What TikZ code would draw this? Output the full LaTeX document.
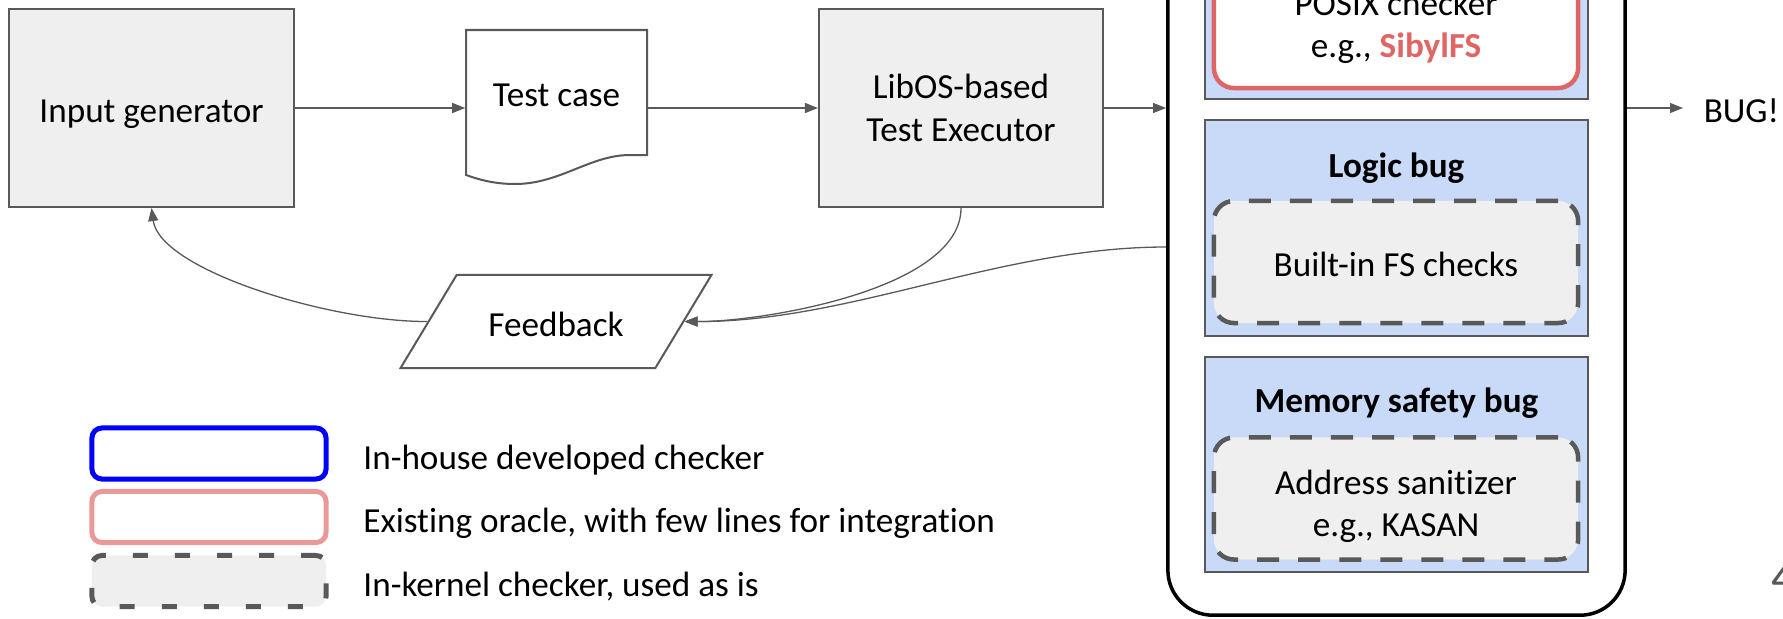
\documentclass[tikz,border=0pt]{standalone}
\usepackage{fontspec}
\setmainfont{Carlito}[Ligatures=CommonOff]
\usetikzlibrary{arrows.meta,shapes.geometric,positioning,calc}

\definecolor{boxgray}{HTML}{EFEFEF}
\definecolor{linegray}{HTML}{595959}
\definecolor{panelblue}{HTML}{C9DAF8}
\definecolor{oraclered}{HTML}{E06666}
\definecolor{keyred}{HTML}{EA9999}
\definecolor{keyblue}{HTML}{0000FF}

\begin{document}
\begin{tikzpicture}[x=0.01cm,y=-0.01cm,font=\fontsize{10}{12}\selectfont]

\tikzset{txt/.style = {text height=0.36cm, text depth=0.07cm}}
\tikzset{box/.style = {draw=linegray, line width=0.02cm, fill=boxgray, minimum width=2.84cm, minimum height=1.98cm, align=center}}
\tikzset{edge/.style = {-{Triangle[length=0.13cm,width=0.1cm]}, draw=linegray, line width=0.013cm}}
\tikzset{panel/.style = {draw=linegray, line width=0.02cm, fill=panelblue, minimum width=3.83cm, minimum height=2.15cm}}
\tikzset{chkbox/.style = {rounded corners=0.2cm, minimum width=3.64cm, minimum height=1.22cm, align=center, line width=0.045cm}}
\tikzset{kernel/.style = {chkbox, draw=linegray, fill=boxgray, dash pattern=on 0.22cm off 0.19cm}}
\tikzset{oracle/.style = {chkbox, draw=oraclered, fill=white}}
\tikzset{key/.style = {rounded corners=0.1cm, minimum width=2.34cm, minimum height=0.51cm, line width=0.05cm}}

\useasboundingbox (0,0) rectangle (1783,618);

% pipeline
\node[box, txt] (gen) at (151.5,108) {Input generator};
\node[minimum width=1.81cm, minimum height=1.56cm] (tc) at (556.5,108) {};
\draw[draw=linegray, line width=0.02cm] (466,30) -- (647,30) -- (647,155) -- (630,155)
  .. controls (590,155) and (560,184) .. (515,184)
  .. controls (495,184) and (480,180) .. (466,175) -- cycle;
\node[txt] (tctext) at (556.5,92) {Test case};
\node[box] (exec) at (961,108) {LibOS-based\\Test Executor};
\node[draw=linegray, line width=0.02cm, trapezium, trapezium left angle=56, trapezium right angle=124,
  trapezium stretches=true, minimum width=3.12cm, minimum height=0.93cm, txt] (fb) at (556,321.5) {Feedback};

% checkers
\node[draw, line width=0.035cm, rounded corners=0.45cm, minimum width=4.57cm, minimum height=6.75cm] (chk) at (1396.5,277.5) {};
\node[panel] (posix) at (1396.5,-8.5) {};
\node[oracle] (sibyl) at (1396,27) {POSIX checker\\e.g., \textcolor{oraclered}{\textbf{SibylFS}}};
\node[panel] (logic) at (1396.5,228) {};
\node[txt] (logictitle) at (1396.5,163) {\textbf{Logic bug}};
\node[kernel, txt] (fsck) at (1396,262) {Built-in FS checks};
\node[panel] (mem) at (1396.5,464.5) {};
\node[txt] (memtitle) at (1396.5,398) {\textbf{Memory safety bug}};
\node[kernel] (kasan) at (1396,498.5) {};
\node[align=center] (kasantext) at (1396,506) {Address sanitizer\\e.g., KASAN};
\node[anchor=west, inner xsep=0.2cm, txt] (bug) at (1683,108) {BUG!};

%edges
\draw[edge] (gen) to (tc);
\draw[edge] (tc) to (exec);
\draw[edge] (exec) to (exec -| chk.west);
\draw[edge] (exec -| chk.east) to (bug);
\draw[edge] (exec.south) .. controls (961,290) and (760,322) .. (fb.east);
\draw[edge] (chk.west |- 0,247) .. controls (1000,247) and (850,322) .. (fb.east);
\draw[edge] (fb.west) .. controls (330,322) and (160,270) .. (gen.south);

% legend
\node[key, draw=keyblue] (k1) at (209,453.5) {};
\node[key, draw=keyred] (k2) at (209,517) {};
\node[key, draw=linegray, fill=boxgray, dash pattern=on 0.15cm off 0.27cm] (k3) at (209,581) {};
\node[anchor=west, txt] (t1) at (351,455) {In-house developed checker};
\node[anchor=west, txt] (t2) at (351,518) {Existing oracle, with few lines for integration};
\node[anchor=west, txt] (t3) at (351,582) {In-kernel checker, used as is};

\node[anchor=west, inner sep=0, text=linegray, font=\fontsize{14}{16}\selectfont] (page) at (1771,578) {4};

\end{tikzpicture}
\end{document}
